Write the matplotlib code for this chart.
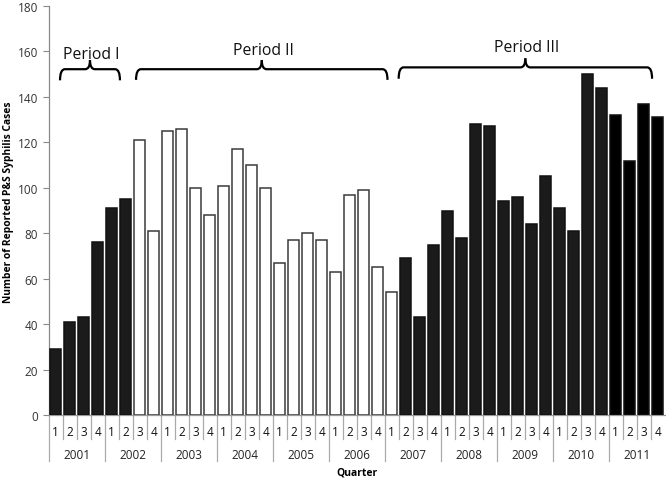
import matplotlib
matplotlib.use("Agg")
import matplotlib.pyplot as plt
from matplotlib.path import Path
from matplotlib.patches import PathPatch

plt.rcParams['font.family'] = ['Open Sans', 'DejaVu Sans']

years = ["2001", "2002", "2003", "2004", "2005", "2006",
         "2007", "2008", "2009", "2010", "2011"]
quarters = ["1", "2", "3", "4"]
cases = [29, 41, 43, 76,
         91, 95, 121, 81,
         125, 126, 100, 88,
         101, 117, 110, 100,
         67, 77, 80, 77,
         63, 97, 99, 65,
         54, 69, 43, 75,
         90, 78, 128, 127,
         94, 96, 84, 105,
         91, 81, 150, 144,
         132, 112, 137, 131]
# period of each bar: 1 = Period I, 2 = Period II, 3 = Period III
period = [1] * 6 + [2] * 19 + [3] * 19
period_labels = ["Period I", "Period II", "Period III"]
brace_spans = [(0.31, 4.59), (5.74, 23.7), (24.5, 42.6)]

fig = plt.figure(figsize=(6.66, 4.81), dpi=100)
ax = fig.add_axes([0.0731, 0.135, 0.9249, 0.8504])

n = len(cases)
xs = list(range(n))
face = []
edge = []
for i, p in enumerate(period):
    if p == 2:
        face.append("white"); edge.append("#3a3a3a")
    else:
        face.append("#000000" if i >= 40 else "#1b1b1b"); edge.append("#111111")
ax.bar(xs, cases, width=0.82, color=face, edgecolor=edge, linewidth=1.1, zorder=3)

ax.set_xlim(-0.5, n - 0.5)
ax.set_ylim(0, 180)
ax.set_yticks(range(0, 181, 20))
ax.tick_params(axis='y', labelsize=8.5, colors='#333333', length=4, width=0.8, color='#888888')
ax.tick_params(axis='x', length=0, labelbottom=False)
for s in ['top', 'right']:
    ax.spines[s].set_visible(False)
ax.spines['left'].set_color('#888888')
ax.spines['bottom'].set_color('#999999')
ax.spines['left'].set_linewidth(0.9)
ax.spines['bottom'].set_linewidth(0.9)

ax.set_ylabel("Number of Reported P&S Syphilis Cases", fontsize=7.4,
              fontweight='bold')
ax.yaxis.set_label_coords(-0.057, 0.523)

tr = ax.get_xaxis_transform()
ah = 409.0
def fy(px):
    return -px / ah

for i in range(n):
    q = quarters[i % 4]
    ax.text(i, fy(16), q, transform=tr, ha='center', va='center', fontsize=8.5, color='#111111')
    if i % 4 == 0:
        ax.plot([i - 0.5, i - 0.5], [0, fy(46)], transform=tr, color='#aaaaaa', lw=0.9, clip_on=False)
    else:
        ax.plot([i - 0.5, i - 0.5], [0, fy(24)], transform=tr, color='#aaaaaa', lw=0.9, clip_on=False)
for k, y in enumerate(years):
    ax.text(4 * k + 1.5, fy(39), y, transform=tr, ha='center', va='center', fontsize=8.5, color='#222222')
ax.text((n - 1) / 2, fy(57), "Quarter", transform=tr, ha='center', va='center', fontsize=7.5, fontweight='bold')

def brace(x0, x1, y_end, y_line, y_tip, r=0.35):
    xc = (x0 + x1) / 2
    p1 = Path([(x0, y_end), (x0, y_line), (x0 + r, y_line), (xc - r, y_line), (xc, y_line), (xc, y_tip)],
              [Path.MOVETO, Path.CURVE3, Path.CURVE3, Path.LINETO, Path.CURVE3, Path.CURVE3])
    p2 = Path([(xc, y_tip), (xc, y_line), (xc + r, y_line), (x1 - r, y_line), (x1, y_line), (x1, y_end)],
              [Path.MOVETO, Path.CURVE3, Path.CURVE3, Path.LINETO, Path.CURVE3, Path.CURVE3])
    for p in (p1, p2):
        ax.add_patch(PathPatch(p, fill=False, lw=1.6, edgecolor='black', capstyle='butt', zorder=4))

brace_y = [(147.3, 152.2, 156.2), (147.5, 152.2, 156.2), (148.0, 153.0, 157.0)]
label_y = [159.0, 160.5, 162.0]
for (x0, x1), (ye, yl, yt), lab, ly in zip(brace_spans, brace_y, period_labels, label_y):
    brace(x0, x1, ye, yl, yt)
    ax.text((x0 + x1) / 2 + 0.1, ly, lab, ha='center', va='center', fontsize=11.3, color='#111111')

fig.savefig("out.png", dpi=100)
